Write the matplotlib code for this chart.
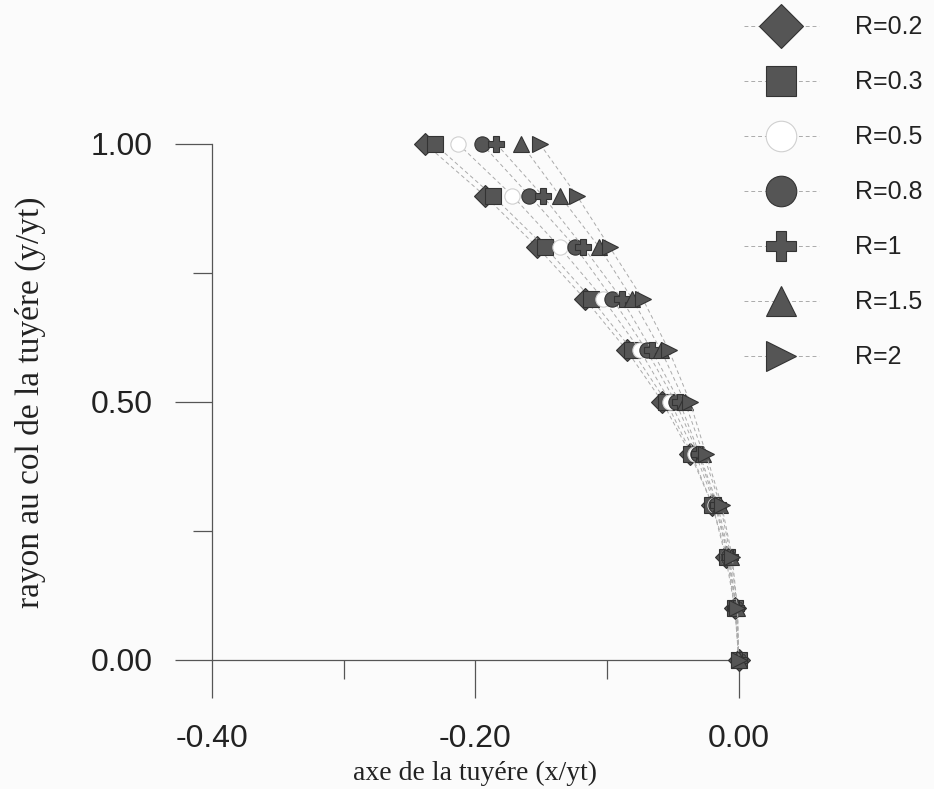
import numpy as np
import matplotlib
matplotlib.use("Agg")
import matplotlib.pyplot as plt

# rayon au col (y/yt), de haut en bas
y_vals = [1.0, 0.9, 0.8, 0.7, 0.6, 0.5, 0.4, 0.3, 0.2, 0.1, 0.0]

# position axiale (x/yt) pour chaque rapport R
x_R02 = [-0.238, -0.193, -0.153, -0.117, -0.085, -0.058, -0.037, -0.020, -0.010, -0.003, 0.0]
x_R03 = [-0.231, -0.187, -0.147, -0.112, -0.081, -0.055, -0.036, -0.020, -0.009, -0.003, 0.0]
x_R05 = [-0.213, -0.172, -0.136, -0.103, -0.075, -0.052, -0.033, -0.018, -0.008, -0.002, 0.0]
x_R08 = [-0.195, -0.159, -0.124, -0.096, -0.070, -0.048, -0.031, -0.017, -0.008, -0.002, 0.0]
x_R1 = [-0.184, -0.149, -0.118, -0.089, -0.066, -0.045, -0.030, -0.016, -0.007, -0.002, 0.0]
x_R15 = [-0.165, -0.136, -0.106, -0.081, -0.059, -0.041, -0.027, -0.014, -0.006, -0.001, 0.0]
x_R2 = [-0.151, -0.123, -0.098, -0.073, -0.053, -0.037, -0.025, -0.013, -0.005, -0.001, 0.0]

labels = ["R=0.2", "R=0.3", "R=0.5", "R=0.8", "R=1", "R=1.5", "R=2"]
series = [x_R02, x_R03, x_R05, x_R08, x_R1, x_R15, x_R2]
marqueurs = ["D", "s", "o", "o", "P", "^", ">"]

fig = plt.figure(figsize=(9.34, 7.89), dpi=100)
fig.patch.set_facecolor("#fbfbfb")
ax = fig.add_axes([0.227, 0.1635, 0.564, 0.654])
ax.set_facecolor("none")

for xs, lab, m in zip(series, labels, marqueurs):
    if lab == "R=0.5":
        fc, ec = "white", "#d0d0d0"
    else:
        fc, ec = "#555555", "#333333"
    ax.plot(xs, y_vals, color="#aaaaaa", lw=0.7, ls=(0, (4, 3)),
            marker=m, ms=11, mfc=fc, mec=ec, mew=0.8,
            label=lab, clip_on=False, zorder=3)

ax.set_xlim(-0.40, 0.0)
ax.set_ylim(0.0, 1.0)
ax.set_xticks([-0.40, -0.20, 0.00])
ax.set_xticks([-0.30, -0.10], minor=True)
ax.set_yticks([0.00, 0.50, 1.00])
ax.set_yticks([0.25, 0.75], minor=True)
ax.set_xticklabels(["-0.40", "-0.20", "0.00"])
ax.set_yticklabels(["0.00", "0.50", "1.00"])

for s in ["top", "right"]:
    ax.spines[s].set_visible(False)
for s in ["left", "bottom"]:
    ax.spines[s].set_color("#555555")
    ax.spines[s].set_linewidth(0.9)

ax.tick_params(which="major", direction="out", length=27, width=0.9,
               color="#555555", pad=16, labelsize=23, labelcolor="#222222")
ax.tick_params(axis="x", which="major", pad=19)
ax.tick_params(which="minor", direction="out", length=14, width=0.9,
               color="#555555")
for t in ax.get_xticklabels() + ax.get_yticklabels():
    t.set_family("Liberation Sans")

ax.set_xlabel("axe de la tuyére (x/yt)", family="Liberation Serif",
              fontsize=20, color="#222222", labelpad=5)
ax.set_ylabel("rayon au col de la tuyére (y/yt)", family="Liberation Serif",
              fontsize=24, color="#222222", labelpad=32)

leg = fig.legend(loc="upper left", bbox_to_anchor=(0.772, 1.009),
                 frameon=False, markerscale=2.0, handlelength=3.0,
                 handletextpad=1.45, labelspacing=1.24,
                 prop={"family": "Liberation Sans", "size": 18})
for t in leg.get_texts():
    t.set_color("#222222")

fig.savefig("out.png", dpi=100, facecolor=fig.get_facecolor())
